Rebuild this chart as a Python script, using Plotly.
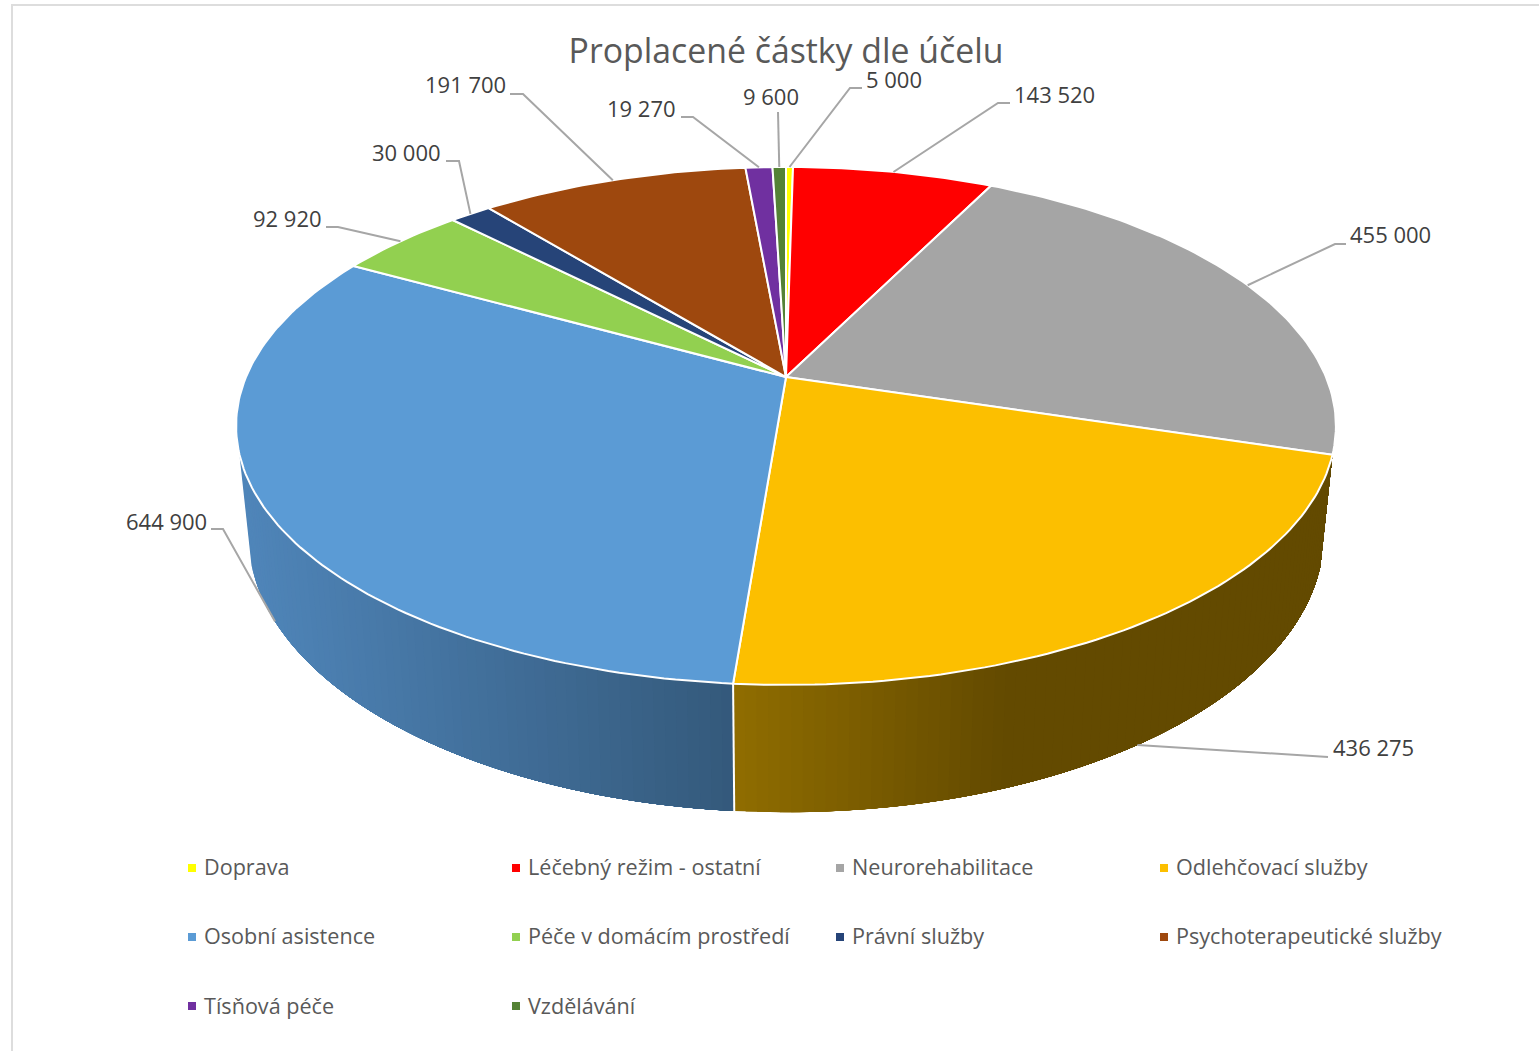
import math
import plotly.graph_objects as go

# ---- data -------------------------------------------------------------
categories = ["Doprava", "Léčebný režim - ostatní", "Neurorehabilitace", "Odlehčovací služby",
              "Osobní asistence", "Péče v domácím prostředí", "Právní služby",
              "Psychoterapeutické služby", "Tísňová péče", "Vzdělávání"]
values = [5000, 143520, 455000, 436275, 644900, 92920, 30000, 191700, 19270, 9600]
colors = ["#FFFF00", "#FF0000", "#A5A5A5", "#FCBF00", "#5B9BD5",
          "#92D050", "#264478", "#9E480E", "#7030A0", "#548235"]
title_text = "Proplacené částky dle účelu"

# ---- projection of the tilted disc ------------------------------------
CX = 786
P = 0.189
TOP = dict(A=540.0, B=249.7, Y0=377.0)
BOT = dict(A=528.0, B=267.0, Y0=483.0)


def project(theta_deg, rim):
    t = math.radians(theta_deg)
    u, v = math.sin(t), -math.cos(t)
    w = 1 - P * v
    return CX + rim["A"] * u / w, rim["Y0"] + rim["B"] * v / w


def lerp_hex(a, b, f):
    f = max(0.0, min(1.0, f))
    ca = [int(a[i:i + 2], 16) for i in (1, 3, 5)]
    cb = [int(b[i:i + 2], 16) for i in (1, 3, 5)]
    return "#%02x%02x%02x" % tuple(round(x + (y - x) * f) for x, y in zip(ca, cb))


total = sum(values)
edges = [0.0]
for val in values:
    edges.append(edges[-1] + val / total * 360.0)
mids = [(edges[i] + edges[i + 1]) / 2 for i in range(len(values))]

fig = go.Figure()

# ---- side wall: overlapping strips so no seams show --------------------
def wall_color(i, x):
    if i == 3:
        return lerp_hex("#906D00", "#634A00", (x - 733) / 270.0)
    return lerp_hex("#4F85B9", "#34597B", (x - 250) / 483.0)


STEP = 1.0
for i, a0, a1 in ((3, edges[3], edges[4]), (4, edges[4], 253.0)):
    # each wall is painted from its far end towards the divider
    n = int((a1 - a0) / STEP)
    for k in range(n):
        t1 = a0 + (a1 - a0) * (n - k) / n
        tm = a0 + (a1 - a0) * (n - k - 0.5) / n
        arc = [a0 + (t1 - a0) * j / 40 for j in range(41)]
        col = wall_color(i, project(tm, TOP)[0] * 0.5 + project(tm, BOT)[0] * 0.5)
        pts = [project(t, TOP) for t in arc] + [project(t, BOT) for t in reversed(arc)]
        pts.append(pts[0])
        fig.add_trace(go.Scatter(x=[p[0] for p in pts], y=[p[1] for p in pts], mode="lines",
                                 fill="toself", fillcolor=col, line=dict(width=0),
                                 hoverinfo="skip", showlegend=False))

# divider between the two visible walls
div_top, div_bot = project(edges[4], TOP), project(edges[4], BOT)
fig.add_trace(go.Scatter(x=[div_top[0], div_bot[0]], y=[div_top[1], div_bot[1]], mode="lines",
                         line=dict(color="white", width=2), hoverinfo="skip", showlegend=False))

# ---- top wedges -------------------------------------------------------
for i, cat in enumerate(categories):
    a0, a1 = edges[i], edges[i + 1]
    n = max(2, int((a1 - a0) / 1.0))
    arc = [project(a0 + (a1 - a0) * k / n, TOP) for k in range(n + 1)]
    xs = [CX] + [p[0] for p in arc] + [CX]
    ys = [TOP["Y0"]] + [p[1] for p in arc] + [TOP["Y0"]]
    fig.add_trace(go.Scatter(x=xs, y=ys, mode="lines", fill="toself", fillcolor=colors[i],
                             line=dict(color="white", width=2), name=cat,
                             text=f"{cat}: {values[i]:,}".replace(",", " "), hoverinfo="text",
                             showlegend=False))

# ---- data-label leaders -----------------------------------------------
leader_rim = [TOP, TOP, TOP, BOT, BOT, TOP, TOP, TOP, TOP, TOP]
leader_path = [
    [(850, 88), (862, 88)],
    [(998, 103), (1010, 103)],
    [(1335, 244), (1346, 244)],
    [(1317, 757), (1328, 757)],
    [(223, 529), (211, 529)],
    [(338, 227), (326, 227)],
    [(459, 161), (446, 161)],
    [(523, 94), (510, 94)],
    [(693, 117), (681, 117)],
    [(778, 112)],
]
label_pos = [(864, 79, "left"), (1012, 94, "left"), (1348, 234, "left"), (1331, 747, "left"),
             (209, 521, "right"), (324, 218, "right"), (443, 152, "right"), (508, 84, "right"),
             (678, 108, "right"), (771, 96, "center")]

annotations = []
for i in range(len(values)):
    start = project(mids[i], leader_rim[i])
    path = [start] + leader_path[i]
    fig.add_trace(go.Scatter(x=[p[0] for p in path], y=[p[1] for p in path], mode="lines",
                             line=dict(color="#A6A6A6", width=2), hoverinfo="skip", showlegend=False))
    lx, ly, anchor = label_pos[i]
    annotations.append(dict(x=lx, y=ly, xref="x", yref="y", xanchor=anchor, yanchor="middle",
                            text=f"{values[i]:,}".replace(",", " "), showarrow=False,
                            font=dict(family="Open Sans", size=22, color="#404040")))

# ---- legend -----------------------------------------------------------
legend_cols = [192, 516, 840, 1164]
legend_rows = [868, 937, 1006]
legend_text_rows = [866, 935, 1005]
for i, cat in enumerate(categories):
    lx = legend_cols[i % 4]
    ly = legend_rows[i // 4]
    fig.add_trace(go.Scatter(x=[lx], y=[ly], mode="markers", name=cat,
                             marker=dict(symbol="square", size=8, color=colors[i]),
                             hoverinfo="skip", showlegend=False))
    annotations.append(dict(x=lx + 10, y=legend_text_rows[i // 4], xref="x", yref="y",
                            xanchor="left", yanchor="middle", text=cat, showarrow=False,
                            font=dict(family="Open Sans", size=21.6, color="#595959")))

fig.update_layout(
    width=1539, height=1051, margin=dict(l=0, r=0, t=0, b=0),
    paper_bgcolor="white", plot_bgcolor="white", showlegend=False,
    title=dict(text=title_text, x=786 / 1539, xanchor="center", xref="paper",
               y=1 - 51 / 1051, yref="container", yanchor="middle",
               font=dict(family="Open Sans", size=33.8, color="#595959")),
    xaxis=dict(range=[0, 1539], visible=False, fixedrange=True),
    yaxis=dict(range=[1051, 0], visible=False, fixedrange=True),
    annotations=annotations,
    shapes=[dict(type="path", path="M 12 1051 L 12 5 L 1539 5", xref="x", yref="y",
                 line=dict(color="#DDDDDD", width=2), layer="below")],
)

fig.write_html("out.html", config={"displayModeBar": False},
               post_script="document.body.style.margin='0';document.body.style.overflow='hidden';")
